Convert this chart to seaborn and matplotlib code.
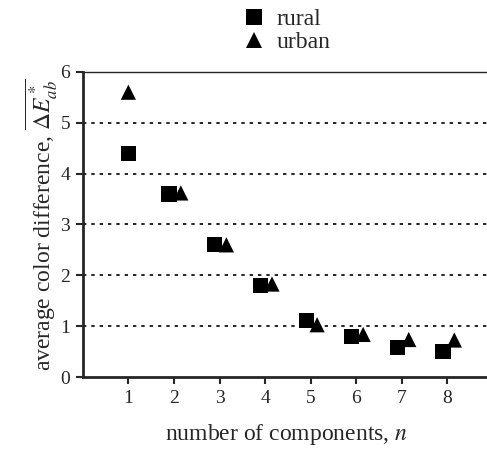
import numpy as np
import pandas as pd
import seaborn as sns
import matplotlib.pyplot as plt

# Data
n = [1, 2, 3, 4, 5, 6, 7, 8]
rural = [4.4, 3.6, 2.6, 1.8, 1.12, 0.8, 0.59, 0.5]
urban = [5.6, 3.62, 2.6, 1.83, 1.03, 0.84, 0.74, 0.73]
shift_rural = [0, -0.11, -0.11, -0.11, -0.1, -0.1, -0.1, -0.1]
shift_urban = [0, 0.15, 0.15, 0.15, 0.14, 0.15, 0.15, 0.15]

df = pd.DataFrame({
    'n': np.concatenate([np.array(n) + np.array(shift_rural), np.array(n) + np.array(shift_urban)]),
    'value': rural + urban,
    'area': ['rural'] * len(n) + ['urban'] * len(n),
})

sns.set_style('ticks')
plt.rcParams['font.family'] = ['Liberation Serif', 'DejaVu Serif']
plt.rcParams['mathtext.fontset'] = 'stix'

fig = plt.figure(figsize=(4.87, 4.49), dpi=100)
ax = fig.add_axes([0.170, 0.160, 0.835, 0.680])

sns.scatterplot(data=df, x='n', y='value', hue='area', style='area',
                markers={'rural': 's', 'urban': '^'},
                palette={'rural': 'black', 'urban': 'black'},
                s=120, edgecolor='black', linewidth=0, ax=ax, legend=True)

ax.set_xlim(0, 8.92)
ax.set_ylim(0, 6)
ax.set_xticks(n)
ax.set_yticks(range(0, 7))
for yv in range(1, 6):
    ax.axhline(yv, color='black', linestyle=(0, (2, 3)), linewidth=1.2, zorder=0)

ax.spines['right'].set_visible(False)
ax.spines['left'].set_linewidth(2)
ax.spines['bottom'].set_linewidth(2)
ax.spines['top'].set_linewidth(1)
ax.tick_params(axis='both', labelsize=14, width=1.5, length=5, direction='out', pad=4)

ax.set_xlabel('number of components, $n$', fontsize=17, labelpad=11)
ax.set_ylabel(r'average color difference, $\overline{\Delta E^*_{ab}}$', fontsize=17, labelpad=1)

leg = ax.legend(loc='upper left', bbox_to_anchor=(0.468, 1.012), bbox_transform=fig.transFigure,
                frameon=False, fontsize=17, handlelength=1.0, handletextpad=0.45,
                labelspacing=0.05, borderpad=0.1, markerscale=1.0)

fig.savefig('out.png', dpi=100)
